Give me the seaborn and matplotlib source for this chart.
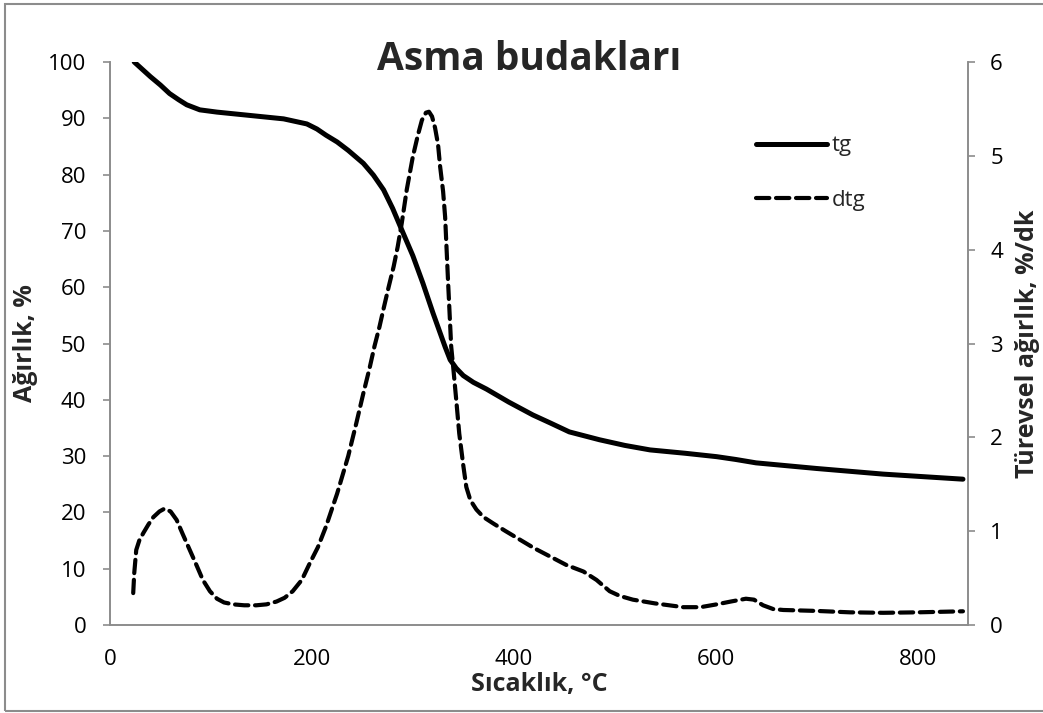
import matplotlib
matplotlib.use("Agg")
import matplotlib.pyplot as plt
import seaborn as sns
import pandas as pd
from matplotlib.patches import Rectangle

# ---- data ----
tg_temp = [24, 32, 40, 50, 59, 68, 76, 89, 106, 139, 172, 195, 205, 214, 225, 236, 251, 261, 271, 280, 289,
           300, 310, 320, 332, 337, 343, 350, 360, 373, 395, 419, 436, 455, 485, 510, 535, 570, 601, 620, 640,
           670, 700, 766, 845]
tg_weight = [100, 98.7, 97.4, 95.9, 94.4, 93.3, 92.4, 91.5, 91.1, 90.5, 89.9, 89.0, 88.1, 87.0, 85.8, 84.3, 82.0,
             79.9, 77.3, 74.0, 70.2, 65.6, 60.7, 55.4, 49.4, 47.1, 45.6, 44.3, 43.1, 41.9, 39.6, 37.3, 35.9,
             34.3, 32.9, 31.9, 31.1, 30.5, 29.9, 29.4, 28.8, 28.3, 27.8, 26.8, 25.9]

dtg_temp = [23, 24, 26, 29, 33, 38, 43, 49, 54, 60, 66, 72, 79, 86, 92, 99, 106, 113, 122, 133, 145, 155, 165,
            173, 181, 190, 198, 206, 214, 225, 236, 244, 251, 257, 262, 267, 271, 276, 281, 285, 289, 294,
            300, 305, 309, 313, 316, 319, 322, 325, 327, 330, 332, 335, 338, 340, 343, 346, 350, 353, 357,
            363, 370, 380, 392, 406, 420, 436, 452, 469, 482, 495, 505, 518, 540, 568, 585, 601, 615, 630,
            638, 647, 657, 667, 700, 733, 766, 800, 845]
dtg_rate = [0.34, 0.55, 0.80, 0.90, 0.98, 1.07, 1.15, 1.21, 1.24, 1.21, 1.12, 0.97, 0.80, 0.63, 0.48, 0.36,
            0.28, 0.24, 0.22, 0.21, 0.21, 0.22, 0.25, 0.29, 0.36, 0.48, 0.66, 0.83, 1.05, 1.40, 1.80, 2.15,
            2.47, 2.73, 2.97, 3.18, 3.37, 3.60, 3.82, 4.03, 4.28, 4.64, 4.99, 5.22, 5.38, 5.46, 5.47, 5.42,
            5.30, 5.12, 4.89, 4.62, 4.35, 3.64, 2.97, 2.75, 2.40, 2.04, 1.70, 1.47, 1.33, 1.23, 1.15, 1.08,
            1.00, 0.91, 0.82, 0.73, 0.64, 0.57, 0.48, 0.36, 0.31, 0.27, 0.23, 0.19, 0.19, 0.22, 0.25, 0.28,
            0.27, 0.21, 0.17, 0.16, 0.15, 0.135, 0.13, 0.135, 0.146]

left_ticks = [0, 10, 20, 30, 40, 50, 60, 70, 80, 90, 100]
right_ticks = [0, 1, 2, 3, 4, 5, 6]
x_ticks = [0, 200, 400, 600, 800]

title = "Asma budakları"
xlabel = "Sıcaklık, °C"
ylabel_left = "Ağırlık, %"
ylabel_right = "Türevsel ağırlık, %/dk"

sns.set_style("white")
plt.rcParams['font.family'] = ['Open Sans', 'DejaVu Sans']

tg_df = pd.DataFrame({"T": tg_temp, "W": tg_weight})
dtg_df = pd.DataFrame({"T": dtg_temp, "R": dtg_rate})

fig = plt.figure(figsize=(10.43, 7.13), dpi=100)
ax = fig.add_axes([110/1043, 1 - 625/713, (968-110)/1043, (625-62)/713])
ax2 = ax.twinx()

sns.lineplot(data=tg_df, x="T", y="W", ax=ax, color="black", linewidth=3.6,
             label="tg", legend=False)
sns.lineplot(data=dtg_df, x="T", y="R", ax=ax2, color="black", linewidth=3.0,
             label="dtg", legend=False)
for ln in ax.get_lines():
    ln.set_solid_capstyle("round")
    ln.set_solid_joinstyle("round")
for ln in ax2.get_lines():
    ln.set_dashes((3.2, 1.6))
    ln.set_dash_capstyle("round")
    ln.set_dash_joinstyle("round")

grey = "#8c8c8c"
ax.set_xlim(0, 850)
ax.set_ylim(0, 100)
ax2.set_ylim(0, 6)
ax.set_xticks(x_ticks)
ax.set_yticks(left_ticks)
ax2.set_yticks(right_ticks)

for a in (ax, ax2):
    a.spines["top"].set_visible(False)
    for s in ("left", "right", "bottom"):
        a.spines[s].set_color(grey)
        a.spines[s].set_linewidth(1.2)
    a.tick_params(axis="both", colors=grey, length=5, width=1.2, direction="out",
                  labelsize=16, labelcolor="black", pad=12)
ax.tick_params(axis="x", pad=12)
ax2.tick_params(axis="y", pad=11)

ax.set_xlabel(xlabel, fontsize=18, fontweight="bold")
ax.set_ylabel(ylabel_left, fontsize=18, fontweight="bold")
ax2.set_ylabel(ylabel_right, fontsize=18, fontweight="bold")
for lab in (ax.xaxis.label, ax.yaxis.label, ax2.yaxis.label):
    lab.set_verticalalignment("center")
ax2.yaxis.label.set_rotation(90)
ax2.yaxis.set_label_coords((1028 - 110) / 858, 0.5)
ax.yaxis.set_label_coords((26 - 110) / 858, 0.5)
ax.xaxis.set_label_coords(0.5, (625 - 684) / 563)

fig.text(529 / 1043, 1 - 59 / 713, title, ha="center", va="center", fontsize=28, fontweight="bold")

h1, l1 = ax.get_legend_handles_labels()
h2, l2 = ax2.get_legend_handles_labels()
leg = ax2.legend(h1 + h2, l1 + l2, loc="upper left", bbox_to_anchor=(0.73, 0.905),
                 frameon=False, fontsize=16, handlelength=3.2, handletextpad=0.2,
                 labelspacing=1.5)

fig.patches.append(Rectangle((0.005, 0.003), 1.2, 0.992, transform=fig.transFigure,
                             fill=False, edgecolor=grey, linewidth=1.5))

fig.savefig("out.png", dpi=100)
